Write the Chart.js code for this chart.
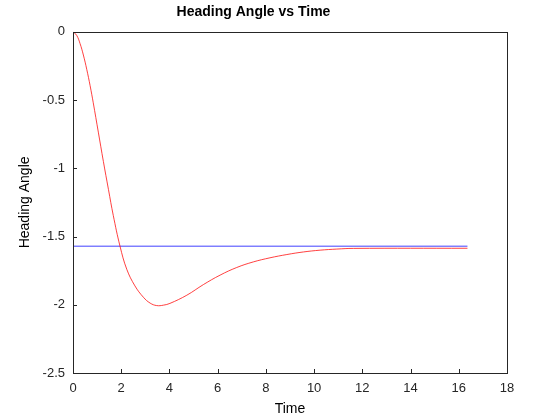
<!DOCTYPE html>
<html>
<head>
<meta charset="utf-8">
<script src="https://cdn.jsdelivr.net/npm/chart.js@4"></script>
<style>
  html, body { margin: 0; padding: 0; background: #fff; }
  #wrap { width: 560px; height: 420px; }
</style>
</head>
<body>
<div id="wrap"><canvas id="chart1"></canvas></div>
<script>
  // Valeurs
  const timeValues = [0, 0.15, 0.29, 0.43, 0.57, 0.71, 0.84, 1.05, 1.26, 1.47, 1.67, 1.95, 2.23, 2.57, 2.92, 3.2, 3.47, 3.75,
    4.02, 4.72, 5.41, 6.1, 6.79, 7.48, 8.17, 8.87, 9.56, 10.25, 10.94, 11.63, 16.36];
  const headingValues = [0, -0.025, -0.085, -0.17, -0.275, -0.395, -0.52, -0.735, -0.95, -1.155, -1.345, -1.571, -1.74, -1.862, -1.945, -1.988, -2.006, -2.003,
    -1.99, -1.93, -1.852, -1.783, -1.727, -1.686, -1.656, -1.632, -1.613, -1.6, -1.592, -1.587, -1.586];
  const refTime = [0, 16.36];
  const refHeading = [-1.5708, -1.5708];

  const xTicks = [0, 2, 4, 6, 8, 10, 12, 14, 16, 18];
  const yTicks = [0, -0.5, -1, -1.5, -2, -2.5];

  const toPoints = (xs, ys) => xs.map((x, i) => ({ x: x, y: ys[i] }));

  // Cadre et graduations vers l'intérieur
  const boxPlugin = {
    id: 'box',
    afterDraw(chart) {
      const { ctx, chartArea: a, scales } = chart;
      ctx.save();
      ctx.strokeStyle = '#262626';
      ctx.lineWidth = 1;
      ctx.strokeRect(Math.round(a.left) + 0.5, Math.round(a.top) + 0.5,
        Math.round(a.right - a.left), Math.round(a.bottom - a.top));
      ctx.beginPath();
      xTicks.forEach(v => {
        const px = Math.round(scales.x.getPixelForValue(v)) + 0.5;
        ctx.moveTo(px, a.bottom);
        ctx.lineTo(px, a.bottom - 4);
      });
      yTicks.forEach(v => {
        const py = Math.round(scales.y.getPixelForValue(v)) + 0.5;
        ctx.moveTo(a.left, py);
        ctx.lineTo(a.left + 4, py);
      });
      ctx.stroke();
      ctx.restore();
    }
  };

  Chart.defaults.font.family = '"Liberation Sans", Arial, sans-serif';
  Chart.defaults.color = '#262626';

  new Chart(document.getElementById('chart1').getContext('2d'), {
    type: 'line',
    data: {
      datasets: [
        {
          label: 'Heading',
          data: toPoints(timeValues, headingValues),
          borderColor: 'rgba(255, 0, 0, 0.75)',
          borderWidth: 1,
          pointRadius: 0,
          tension: 0.4,
          fill: false
        },
        {
          label: 'Reference',
          data: toPoints(refTime, refHeading),
          borderColor: 'rgba(0, 0, 255, 0.75)',
          borderWidth: 1,
          pointRadius: 0,
          fill: false
        }
      ]
    },
    options: {
      responsive: true,
      maintainAspectRatio: false,
      animation: false,
      layout: { padding: { left: 0, right: 53, top: 0, bottom: 0 } },
      plugins: {
        legend: { display: false },
        tooltip: { enabled: false },
        title: {
          display: true,
          text: 'Heading Angle vs Time',
          color: '#000',
          font: { size: 14, weight: 'bold' },
          padding: { top: 4, bottom: 11 }
        }
      },
      scales: {
        x: {
          type: 'linear',
          min: 0,
          max: 18,
          afterFit(scale) { scale.height = 47; },
          grid: { display: false, drawTicks: false },
          border: { display: false },
          ticks: { stepSize: 2, padding: 8, maxRotation: 0, font: { size: 13 } },
          title: { display: true, text: 'Time', color: '#000', font: { size: 14 }, padding: { top: 0, bottom: 2.6 } }
        },
        y: {
          type: 'linear',
          min: -2.5,
          max: 0,
          afterFit(scale) { scale.width = 73; },
          grid: { display: false, drawTicks: false },
          border: { display: false },
          ticks: { stepSize: 0.5, padding: 8, font: { size: 13 }, callback: v => String(v) },
          title: { display: true, text: 'Heading Angle', color: '#000', font: { size: 14 }, padding: { top: 16.6, bottom: 0 } }
        }
      }
    },
    plugins: [boxPlugin]
  });
</script>
</body>
</html>
